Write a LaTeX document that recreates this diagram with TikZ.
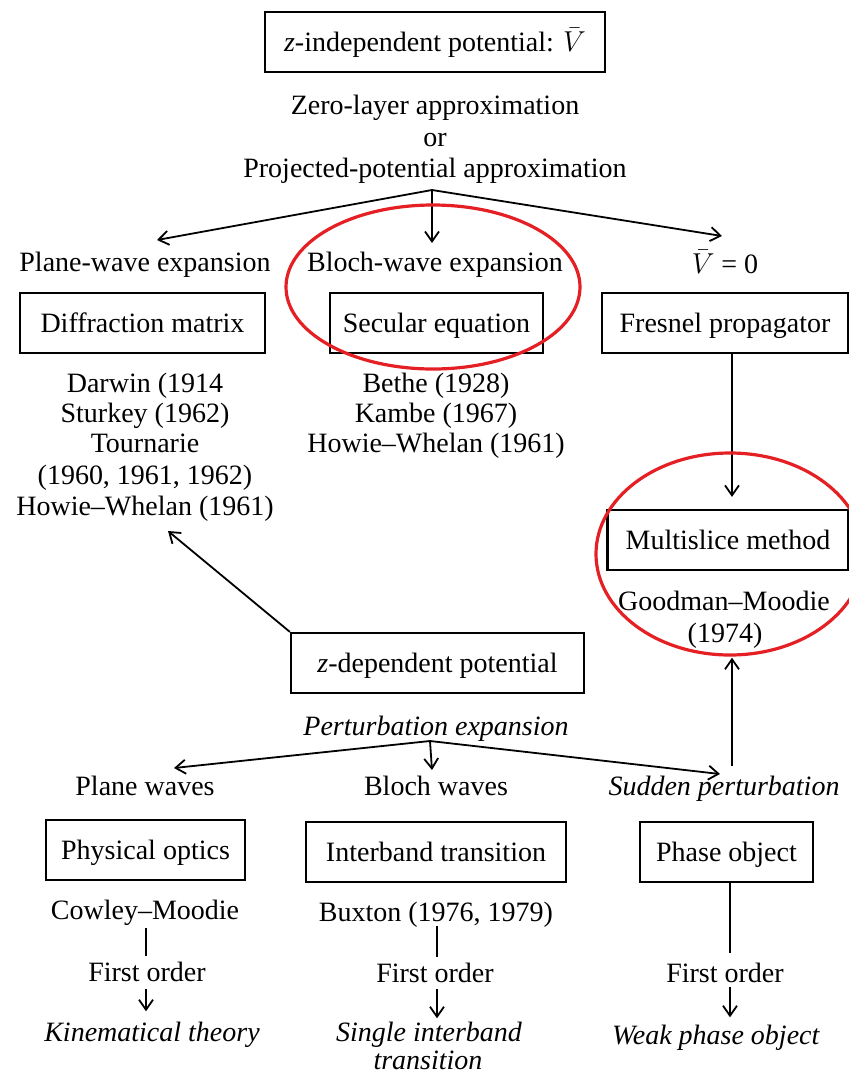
\documentclass[tikz,border=0pt]{standalone}
\usepackage{fontspec}
\setmainfont{Liberation Serif}
\usetikzlibrary{arrows.meta}
\definecolor{ringred}{RGB}{228,32,36}
\begin{document}
\begin{tikzpicture}[x=0.5pt,y=-0.5pt,
  every node/.style={font=\fontsize{14}{15.75}\selectfont},
  t/.style={inner sep=0pt, text height=9.3pt, text depth=0pt},
  box/.style={draw, line width=1.1pt, minimum height=30pt, inner sep=0pt, text height=9.3pt, text depth=0pt},
  arr/.style={line width=0.9pt, -{Straight Barb[length=5pt,width=7pt]}},
  ln/.style={line width=0.9pt},
  redring/.style={draw=ringred, line width=1.6pt}
]
\fill[white] (0,0) rectangle (849,1073);
\useasboundingbox (0,0) rectangle (849,1073);

% top part
\node[box, minimum width=170pt] (top) at (435,42) {\textit{z}-independent potential: $\bar{V}$};
\node[t] (zl) at (435,105) {Zero-layer approximation};
\node[t] (or) at (435,137) {or};
\node[t] (pp) at (435,168) {Projected-potential approximation};
\coordinate (f1) at (432,190);
\coordinate (t1l) at (157,240);
\coordinate (t1c) at (432,243);
\coordinate (t1r) at (722,236);
\draw[arr] (f1) -- (t1l);
\draw[arr] (f1) -- (t1c);
\draw[arr] (f1) -- (t1r);

\node[t] (pwe) at (145,262) {Plane-wave expansion};
\node[t] (bwe) at (435,262) {Bloch-wave expansion};
\node[t] (v0) at (725,264) {$\bar{V}$ = 0};

\node[box, minimum width=122.5pt] (dm) at (142.5,323) {Diffraction matrix};
\node[box, minimum width=106.5pt] (se) at (436.5,323) {Secular equation};
\node[box, minimum width=123pt] (fp) at (725,323) {Fresnel propagator};

\node[t] (d1) at (145,383) {Darwin (1914};
\node[t] (d2) at (145,413) {Sturkey (1962)};
\node[t] (d3) at (145,443) {Tournarie};
\node[t] (d4) at (145,475) {(1960, 1961, 1962)};
\node[t] (d5) at (145,506) {Howie–Whelan (1961)};

\node[t] (b1) at (436,383) {Bethe (1928)};
\node[t] (b2) at (436,413) {Kambe (1967)};
\node[t] (b3) at (436,443) {Howie–Whelan (1961)};

\node[box, minimum width=120.5pt] (ms) at (728,540) {Multislice method};
\node[t] (gm) at (724,601) {Goodman–Moodie};
\node[t] (gmy) at (725,633) {(1974)};

\coordinate (xc) at (732,0);
\draw[arr] (fp.south -| xc) -- ([yshift=6pt]ms.north -| xc);

% z-dependent part
\node[box, minimum width=146.5pt] (zd) at (437.5,663) {\textit{z}-dependent potential};
\coordinate (t2) at (168,531);
\draw[arr] (zd.north west) -- (t2);

\node[t] (pe) at (436,726) {\textit{Perturbation expansion}};
\coordinate (f2) at (430,741);
\coordinate (t3l) at (174,768);
\coordinate (t3c) at (432,770);
\coordinate (t3r) at (720,774);
\draw[arr] (f2) -- (t3l);
\draw[arr] (f2) -- (t3c);
\draw[arr] (f2) -- (t3r);

\node[t] (pw) at (145,786) {Plane waves};
\node[t] (bw) at (436,786) {Bloch waves};
\node[t] (sp) at (724,786) {\textit{Sudden perturbation}};
\draw[arr] ([yshift=5pt]sp.north -| xc) -- ([yshift=-7.5pt]gmy.south -| xc);

\node[box, minimum width=99.5pt] (po) at (145.5,850) {Physical optics};
\node[box, minimum width=130pt] (it) at (436,852) {Interband transition};
\node[box, minimum width=86.5pt] (ph) at (726.5,852) {Phase object};

\node[t] (cm) at (145,910) {Cowley–Moodie};
\node[t] (bx) at (436,912) {Buxton (1976, 1979)};

\node[t] (fo1) at (147,972) {First order};
\node[t] (fo2) at (435,973) {First order};
\node[t] (fo3) at (725,973) {First order};

\node[t] (kt) at (152,1032) {\textit{Kinematical theory}};
\node[t] (si) at (429,1032) {\textit{Single interband}};
\node[t] (tr) at (428,1060) {\textit{transition}};
\node[t] (wp) at (716,1035) {\textit{Weak phase object}};

\coordinate (x1) at (146,0);
\coordinate (x2) at (437,0);
\coordinate (x3) at (730,0);
\draw[ln, shorten <=4pt, shorten >=3pt] (cm.south -| x1) -- (fo1.north -| x1);
\draw[arr, shorten <=3.5pt, shorten >=5.5pt] (fo1.south -| x1) -- (kt.north -| x1);
\draw[ln, shorten <=2pt, shorten >=3.3pt] (bx.south -| x2) -- (fo2.north -| x2);
\draw[arr, shorten <=3.3pt, shorten >=2pt] (fo2.south -| x2) -- (si.north -| x2);
\draw[ln, shorten >=5pt] (ph.south -| x3) -- (fo3.north -| x3);
\draw[arr, shorten <=2.3pt, shorten >=4pt] (fo3.south -| x3) -- (wp.north -| x3);

% red highlight rings
\draw[redring] (433,287) ellipse [x radius=73.5pt, y radius=41pt];
\draw[redring] (730,554) ellipse [x radius=67pt, y radius=50.5pt];
\end{tikzpicture}
\end{document}
